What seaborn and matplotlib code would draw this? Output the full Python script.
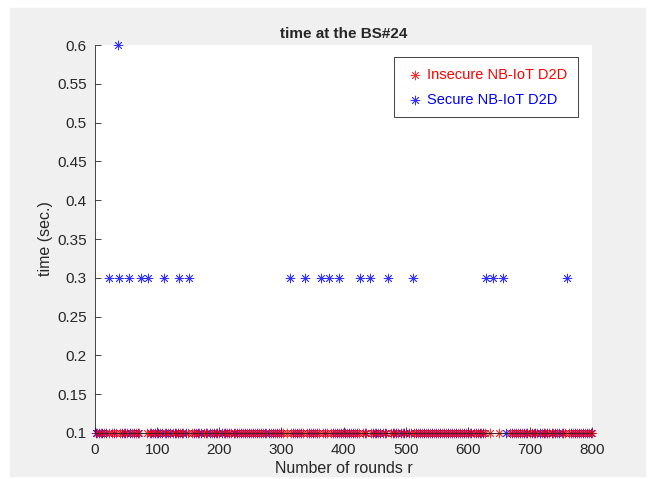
import seaborn as sns
import matplotlib
import matplotlib.pyplot as plt
from matplotlib.patches import Rectangle

sns.set_theme(style="ticks")
plt.rcParams['font.family'] = ['Liberation Sans', 'DejaVu Sans']

# rounds where each protocol took 0.1 s
insecure_rounds = [3, 9, 14, 22, 28, 33, 41, 47, 52, 60, 66, 71, 84, 88, 93, 99, 104, 112, 118,
                   125, 131, 137, 142, 150, 156, 163, 168, 175, 181, 188, 194, 200, 207, 213, 219,
                   226, 232, 238, 245, 251, 257, 264, 270, 276, 283, 290, 296, 302, 309, 316, 322,
                   329, 335, 341, 348, 354, 361, 367, 373, 380, 386, 393, 399, 405, 412, 418, 425,
                   431, 437, 444, 450, 456, 463, 469, 476, 482, 488, 495, 501, 508, 514, 520, 527,
                   533, 540, 546, 552, 559, 565, 571, 578, 584, 591, 597, 603, 610, 616, 622, 628,
                   636, 650, 668, 674, 681, 687, 693, 700, 706, 712, 719, 725, 731, 738, 744, 751,
                   757, 763, 770, 776, 782, 789, 795, 800]
insecure_time = 0.1

secure_low_rounds = [1, 6, 12, 18, 30, 44, 49, 57, 63, 69, 90, 96, 101, 108, 115, 121, 128, 133,
                     140, 146, 159, 165, 171, 178, 185, 191, 197, 204, 210, 216, 223, 229, 235,
                     242, 248, 254, 261, 267, 273, 280, 287, 293, 299, 319, 325, 332, 345, 351,
                     358, 370, 383, 390, 396, 402, 409, 415, 421, 434, 447, 453, 459, 466, 479,
                     485, 492, 498, 505, 517, 523, 530, 536, 543, 549, 555, 562, 568, 574, 581,
                     587, 594, 600, 606, 613, 619, 625, 662, 671, 677, 684, 690, 696, 703, 709,
                     716, 722, 728, 735, 741, 747, 754, 766, 773, 779, 786, 792, 798]
secure_low_time = 0.1

# rounds where the secure protocol took longer
secure_high_rounds = [23, 37, 39, 54, 74, 86, 111, 136, 152, 314, 338, 363, 376, 393, 427, 442,
                      471, 512, 630, 641, 657, 760]
secure_high_time = [0.3, 0.6, 0.3, 0.3, 0.3, 0.3, 0.3, 0.3, 0.3, 0.3, 0.3, 0.3, 0.3, 0.3, 0.3,
                    0.3, 0.3, 0.3, 0.3, 0.3, 0.3, 0.3]

secure_rounds = secure_low_rounds + secure_high_rounds
secure_time = [secure_low_time] * len(secure_low_rounds) + secure_high_time

fig = plt.figure(figsize=(6.55, 4.79), dpi=100, facecolor='white')
fig.patches.append(Rectangle((10 / 655, 3 / 479), 635 / 655, 468 / 479,
                             transform=fig.transFigure, color='#f0f0f0', zorder=-1))
ax = fig.add_axes([95 / 655, 46 / 479, 497 / 655, 388 / 479])
ax.set_facecolor('white')

star = (8, 2, 0)
sns.scatterplot(x=secure_rounds, y=secure_time, ax=ax,
                marker=star, color='blue', s=40, linewidth=0.6, alpha=0.8,
                label='Secure NB-IoT D2D')
sns.scatterplot(x=insecure_rounds, y=[insecure_time] * len(insecure_rounds), ax=ax,
                marker=star, color='red', s=40, linewidth=0.6, alpha=0.8,
                label='Insecure NB-IoT D2D')

ax.set_xlim(0, 800)
ax.set_ylim(0.1, 0.6)
ax.set_xticks(range(0, 801, 100))
ax.set_yticks([0.1, 0.15, 0.2, 0.25, 0.3, 0.35, 0.4, 0.45, 0.5, 0.55, 0.6])
ax.set_yticklabels(['0.1', '0.15', '0.2', '0.25', '0.3', '0.35', '0.4', '0.45', '0.5', '0.55', '0.6'])
ax.tick_params(direction='in', length=4, width=0.6, labelsize=11, colors='#262626',
               top=False, right=False)
ax.tick_params(axis='x', pad=7)
ax.tick_params(axis='y', pad=6)
for s in ['top', 'right']:
    ax.spines[s].set_visible(False)
for s in ['left', 'bottom']:
    ax.spines[s].set_color('#262626')
    ax.spines[s].set_linewidth(0.6)
for c in ax.collections:
    c.set_clip_on(False)

ax.set_title('time at the BS#24', fontsize=11, fontweight='bold', pad=5)
ax.set_xlabel('Number of rounds r', fontsize=11.5, labelpad=3)
ax.set_ylabel('time (sec.)', fontsize=11.5, labelpad=3)

handles, labels = ax.get_legend_handles_labels()
leg = ax.legend(handles[::-1], labels[::-1], loc='upper right', bbox_to_anchor=(0.972, 0.97),
                fontsize=10.5, frameon=True, fancybox=False, edgecolor='#404040', framealpha=1,
                handletextpad=0.2, borderpad=0.75, labelspacing=0.75, handlelength=1.3,
                borderaxespad=0)
leg.get_frame().set_linewidth(0.7)
for t, col in zip(leg.get_texts(), ['red', 'blue']):
    t.set_color(col)

plt.savefig('out.png', dpi=100, facecolor=fig.get_facecolor())
plt.close()
